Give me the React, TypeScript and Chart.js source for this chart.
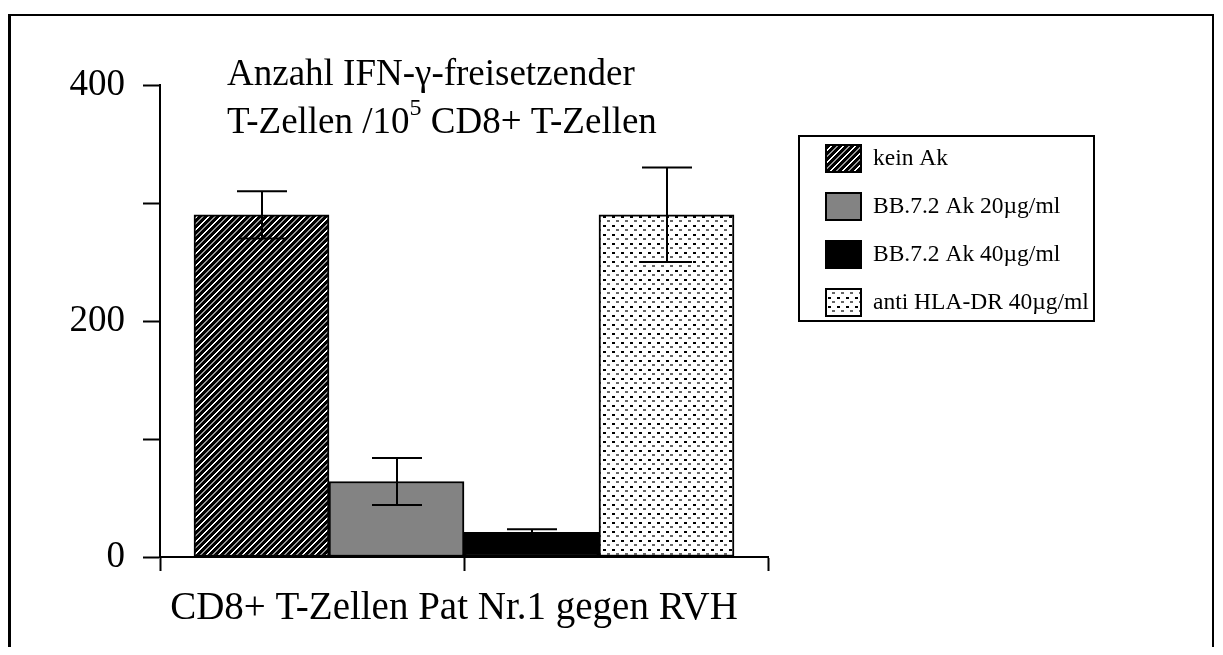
import React, { useEffect, useRef } from 'react';
import { Chart, registerables } from 'chart.js';

Chart.register(...registerables);

// ---- data ----
const categories = ['CD8+ T-Zellen Pat Nr.1 gegen RVH'];
const seriesLabels = ['kein Ak', 'BB.7.2 Ak 20µg/ml', 'BB.7.2 Ak 40µg/ml', 'anti HLA-DR 40µg/ml'];
const seriesValues = [290, 64, 21, 290];
const seriesErrors = [20, 20, 2.5, 40];
const yTickValues = [0, 100, 200, 300, 400];
const yTickLabels = ['0', '', '200', '', '400'];
const xTickValues = [0, 1, 2];
const titleLine1 = 'Anzahl IFN-γ-freisetzender';
const titleLine2Before = 'T-Zellen /10';
const titleLine2Sup = '5';
const titleLine2After = ' CD8+ T-Zellen';

const FONT = '"Liberation Serif", "Times New Roman", serif';

function makeHatch(ctx: CanvasRenderingContext2D) {
  const n = 12;
  const c = document.createElement('canvas');
  c.width = n; c.height = n;
  const t = c.getContext('2d')!;
  const img = t.createImageData(n, n);
  for (let y = 0; y < n; y++) {
    for (let x = 0; x < n; x++) {
      const k = (x + y) % n;
      let v = 0;
      if (k === 0 || k === 1) v = 255;
      else if (k === 6 || k === 7) v = 150;
      const o = (y * n + x) * 4;
      img.data[o] = v; img.data[o + 1] = v; img.data[o + 2] = v; img.data[o + 3] = 255;
    }
  }
  t.putImageData(img, 0, 0);
  return ctx.createPattern(c, 'repeat')!;
}

function makeDots(ctx: CanvasRenderingContext2D) {
  const c = document.createElement('canvas');
  c.width = 9; c.height = 9;
  const t = c.getContext('2d')!;
  t.fillStyle = '#fff';
  t.fillRect(0, 0, 9, 9);
  t.fillStyle = '#000';
  t.fillRect(1, 1, 3, 2);
  t.fillStyle = '#666';
  t.fillRect(5, 5, 3, 2);
  return ctx.createPattern(c, 'repeat')!;
}

const framePlugin = {
  id: 'frame',
  beforeDraw(chart: any) {
    const { ctx, width, height } = chart;
    ctx.save();
    ctx.fillStyle = '#fff';
    ctx.fillRect(0, 0, width, height);
    ctx.strokeStyle = '#000';
    ctx.lineWidth = 3;
    ctx.beginPath();
    ctx.moveTo(1.5, 6);
    ctx.lineTo(1.5, height);
    ctx.stroke();
    ctx.lineWidth = 2;
    ctx.beginPath();
    ctx.moveTo(0, 7);
    ctx.lineTo(1205, 7);
    ctx.lineTo(1205, height);
    ctx.stroke();
    ctx.restore();
  },
};

const errorBarPlugin = {
  id: 'errorBars',
  afterDatasetsDraw(chart: any) {
    const { ctx } = chart;
    const yScale = chart.scales.y;
    ctx.save();
    ctx.strokeStyle = '#000';
    ctx.lineWidth = 2;
    chart.data.datasets.forEach((ds: any, i: number) => {
      const meta = chart.getDatasetMeta(i);
      meta.data.forEach((el: any) => {
        const v = seriesValues[i];
        const e = seriesErrors[i];
        const x = Math.round(el.x);
        const yt = yScale.getPixelForValue(v + e);
        const yb = yScale.getPixelForValue(v - e);
        ctx.beginPath();
        ctx.moveTo(x, yt);
        ctx.lineTo(x, yb);
        ctx.moveTo(x - 25, yt);
        ctx.lineTo(x + 25, yt);
        ctx.moveTo(x - 25, yb);
        ctx.lineTo(x + 25, yb);
        ctx.stroke();
      });
    });
    ctx.restore();
  },
};

const textPlugin = {
  id: 'texts',
  afterDraw(chart: any) {
    const { ctx } = chart;
    ctx.save();
    ctx.fillStyle = '#000';
    ctx.textBaseline = 'alphabetic';
    ctx.textAlign = 'left';
    ctx.font = `37px ${FONT}`;
    ctx.fillText(titleLine1, 219, 77);
    let x = 219;
    ctx.fillText(titleLine2Before, x, 125);
    x += ctx.measureText(titleLine2Before).width;
    ctx.font = `24px ${FONT}`;
    ctx.fillText(titleLine2Sup, x, 107);
    x += ctx.measureText(titleLine2Sup).width;
    ctx.font = `37px ${FONT}`;
    ctx.fillText(titleLine2After, x, 125);

    // legend
    ctx.strokeStyle = '#000';
    ctx.lineWidth = 2;
    ctx.strokeRect(791, 128, 295, 185);
    ctx.font = `23.5px ${FONT}`;
    ctx.textBaseline = 'middle';
    chart.data.datasets.forEach((ds: any, i: number) => {
      const top = 136 + i * 48;
      ctx.fillStyle = ds.backgroundColor;
      ctx.fillRect(817, top, 37, 29);
      ctx.strokeStyle = '#000';
      ctx.lineWidth = 2;
      ctx.strokeRect(818, top + 1, 35, 27);
      ctx.fillStyle = '#000';
      ctx.fillText(ds.label, 865, top + 15);
    });
    ctx.restore();
  },
};

export default function App() {
  const ref = useRef<HTMLCanvasElement | null>(null);
  useEffect(() => {
    const canvas = ref.current!;
    const ctx = canvas.getContext('2d')!;
    const fills: any[] = [makeHatch(ctx), '#838383', '#000000', makeDots(ctx)];
    Chart.defaults.font.family = FONT;
    Chart.defaults.color = '#000';
    const chart = new Chart(canvas, {
      type: 'bar',
      data: {
        datasets: seriesLabels.map((label, i) => ({
          label,
          data: categories.map((c, j) => ({ x: j + 1, y: seriesValues[i] })),
          backgroundColor: fills[i],
          borderColor: '#000',
          borderWidth: 2,
          borderSkipped: false,
          barThickness: 135,
        })),
      },
      options: {
        animation: false,
        responsive: false,
        devicePixelRatio: 1,
        events: [],
        layout: { padding: { left: 0, top: 77, right: 447, bottom: 0 } },
        plugins: { legend: { display: false }, tooltip: { enabled: false }, title: { display: false } },
        scales: {
          x: {
            type: 'linear',
            min: 0,
            max: 2,
            offset: false,
            afterBuildTicks: (s: any) => { s.ticks = xTickValues.map((v) => ({ value: v })); },
            afterFit: (s: any) => { s.height = 90; },
            ticks: {
              callback: (v: any) => (v === 1 ? categories[0] : ''),
              autoSkip: false,
              maxRotation: 0,
              minRotation: 0,
              font: { size: 39, family: FONT },
              color: '#000',
              padding: 14,
              labelOffset: -10,
            },
            grid: { offset: false, drawOnChartArea: false, tickLength: 14, tickColor: '#000', tickWidth: 2 },
            border: { color: '#000', width: 2 },
          } as any,
          y: {
            min: 0,
            max: 400,
            afterBuildTicks: (s: any) => { s.ticks = yTickValues.map((v) => ({ value: v })); },
            afterFit: (s: any) => { s.width = 152; },
            ticks: {
              callback: (v: any, i: number) => yTickLabels[i],
              autoSkip: false,
              font: { size: 37, family: FONT },
              color: '#000',
              padding: 18,
            },
            grid: { drawOnChartArea: false, tickLength: 17, tickColor: '#000', tickWidth: 2 },
            border: { color: '#000', width: 2 },
          } as any,
        },
      },
      plugins: [framePlugin, errorBarPlugin, textPlugin],
    } as any);
    return () => chart.destroy();
  }, []);
  return (
    <div style={{ width: 1207, height: 639 }}>
      <canvas ref={ref} width={1207} height={639} style={{ display: 'block', width: 1207, height: 639 }} />
    </div>
  );
}
